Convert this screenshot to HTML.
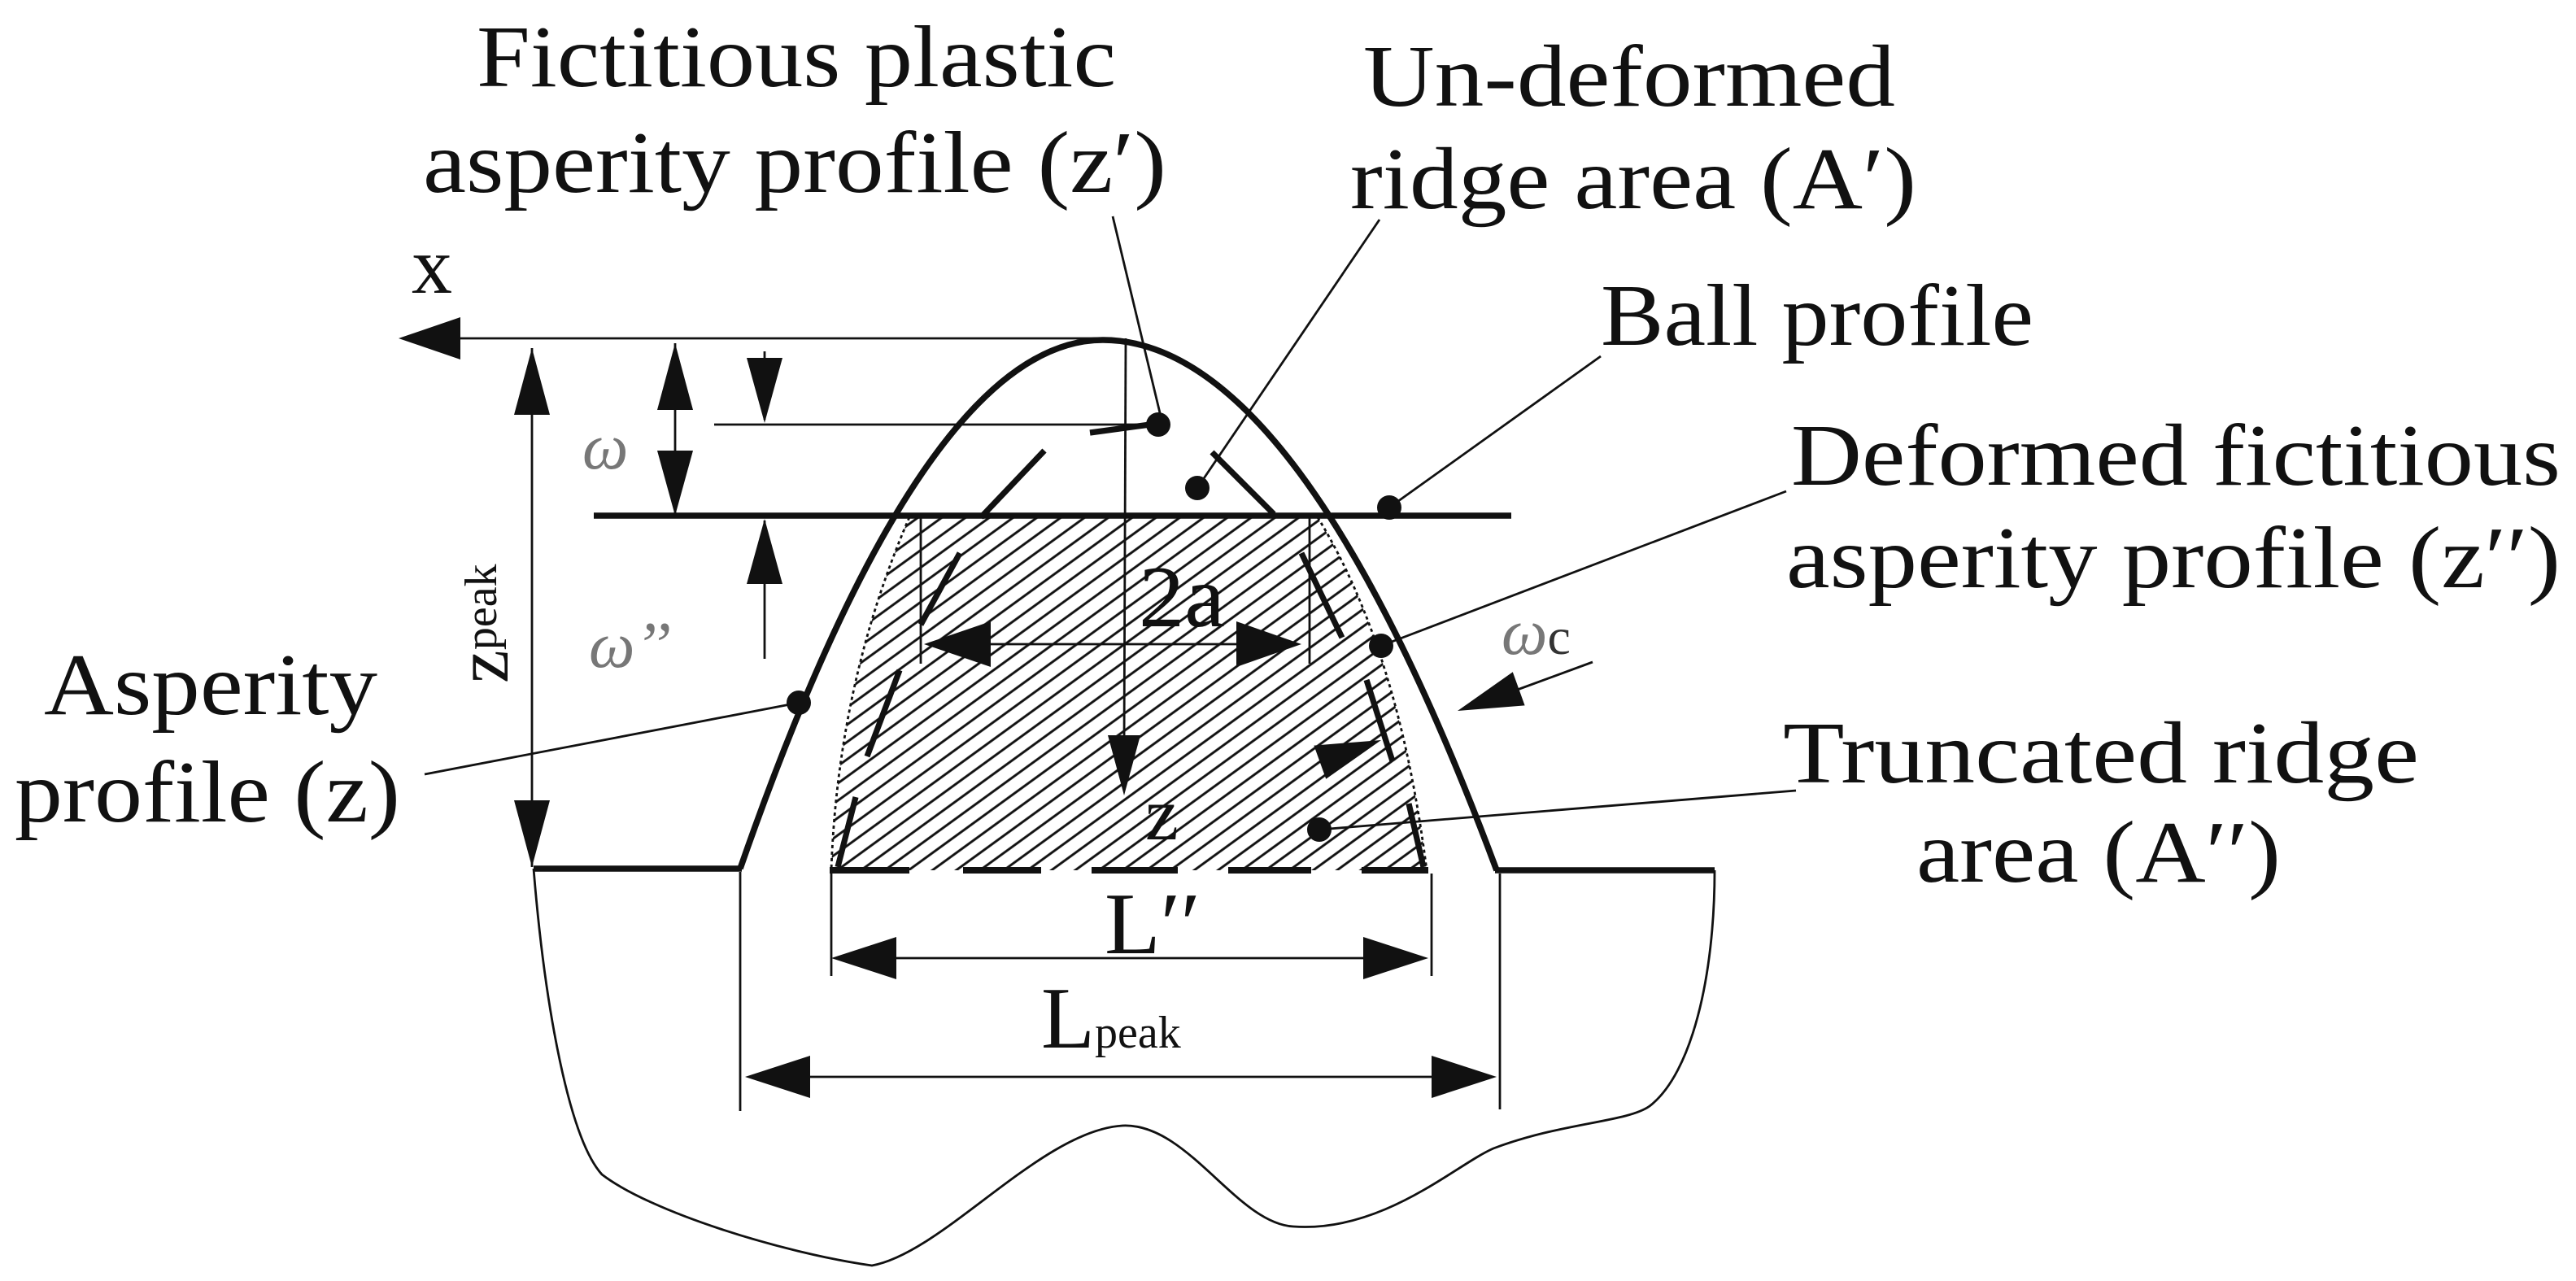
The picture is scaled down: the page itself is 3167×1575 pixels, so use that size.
<!DOCTYPE html>
<html><head><meta charset="utf-8"><style>
html,body{margin:0;padding:0;background:#fff;}
svg{display:block;}
text{font-family:"Liberation Serif",serif;fill:#111;}
</style></head><body>
<svg width="3167" height="1575" viewBox="0 0 1583.5 787.5" xmlns="http://www.w3.org/2000/svg">
<defs>
<pattern id="h" patternUnits="userSpaceOnUse" width="40" height="8.6" patternTransform="rotate(-36)">
<line x1="0" y1="4.3" x2="40" y2="4.3" stroke="#111" stroke-width="1.5"/>
</pattern>
<clipPath id="c"><path d="M559,318 L810,318 Q860,400 877,535 L511,535 Q515,420 559,318 Z"/></clipPath>
</defs>
<rect width="1583.5" height="787.5" fill="#fff"/>

<rect x="500" y="310" width="390" height="230" fill="url(#h)" clip-path="url(#c)"/>
<path d="M559,318 Q515,420 511,535" fill="none" stroke="#111" stroke-width="1.4" stroke-dasharray="2,2"/>
<path d="M810,318 Q860,400 877,535" fill="none" stroke="#111" stroke-width="1.4" stroke-dasharray="2,2"/>
<path d="M510,535 H559 M592,535 H640 M671,535 H724 M755,535 H806 M837,535 H878" stroke="#111" stroke-width="4"/>

<path d="M455,534 Q568,209 678,209 Q798.5,209 920,535" fill="none" stroke="#111" stroke-width="3.8"/>
<path d="M328,534 H456 M919,535 H1054" stroke="#111" stroke-width="3.8"/>
<path d="M328,534 C335,620 350,700 370,722 C400,745 480,770 536,778 C580,770 640,695 690,692 C730,690 760,752 795,754 C850,758 895,716 918,706 C960,690 1000,690 1014,680 C1040,660 1054,600 1054,535" fill="none" stroke="#111" stroke-width="1.4"/>

<line x1="365" y1="317" x2="929" y2="317" stroke="#111" stroke-width="3.8"/>

<path d="M670,266 L707,261 M603,318 L642,277 M566,384 L590,340 M533,465 L553,412 M515,533 L526,490 M745,278 L783,316 M800,340 L825,392 M840,418 L856,468 M866,494 L875,533" stroke="#111" stroke-width="3.6" fill="none"/>

<g stroke="#111" stroke-width="1.4" fill="none">
<line x1="283" y1="208" x2="678" y2="208"/>
<line x1="327" y1="214" x2="327" y2="533"/>
<line x1="415" y1="211" x2="415" y2="317"/>
<line x1="470" y1="216" x2="470" y2="258"/>
<line x1="470" y1="320" x2="470" y2="405"/>
<line x1="439" y1="261" x2="714" y2="261"/>
<line x1="692" y1="208" x2="691" y2="460"/>
<line x1="566" y1="318" x2="566" y2="408"/>
<line x1="805" y1="318" x2="805" y2="408"/>
<line x1="580" y1="396" x2="790" y2="396"/>
<line x1="511" y1="537" x2="511" y2="600"/>
<line x1="880" y1="537" x2="880" y2="600"/>
<line x1="520" y1="589" x2="870" y2="589"/>
<line x1="455" y1="536" x2="455" y2="683"/>
<line x1="922" y1="537" x2="922" y2="682"/>
<line x1="470" y1="662" x2="910" y2="662"/>
<line x1="979" y1="407" x2="930" y2="425"/>
<line x1="684" y1="133" x2="714" y2="258"/>
<line x1="848" y1="135" x2="736" y2="300"/>
<line x1="984" y1="219" x2="854" y2="312"/>
<line x1="1098" y1="302" x2="849" y2="397"/>
<line x1="1104" y1="486" x2="811" y2="510"/>
<line x1="261" y1="476" x2="491" y2="432"/>
</g>

<g fill="#111">
<polygon points="245,208 283,195 283,221"/>
<polygon points="327,214 316,255 338,255"/>
<polygon points="327,533 316,492 338,492"/>
<polygon points="415,211 404,252 426,252"/>
<polygon points="415,317 404,277 426,277"/>
<polygon points="470,260 459,220 481,220"/>
<polygon points="470,319 459,359 481,359"/>
<polygon points="568,396 609,382 609,410"/>
<polygon points="800,396 760,382 760,410"/>
<polygon points="691,489 681,452 701,452"/>
<polygon points="511,589 551,576 551,602"/>
<polygon points="878,589 838,576 838,602"/>
<polygon points="458,662 498,649 498,675"/>
<polygon points="920,662 880,649 880,675"/>
<polygon points="896,437 937.3,433.7 929.9,413.1"/>
<polygon points="849,455 815.1,478.9 807.7,458.3"/>
<circle cx="712" cy="261" r="7.5"/>
<circle cx="736" cy="300" r="7.5"/>
<circle cx="854" cy="312" r="7.5"/>
<circle cx="491" cy="432" r="7.5"/>
<circle cx="849" cy="397" r="7.5"/>
<circle cx="811" cy="510" r="7.5"/>
</g>

<g font-size="54">
<text x="293" y="53" textLength="393" lengthAdjust="spacingAndGlyphs">Fictitious plastic</text>
<text x="260" y="118" textLength="457" lengthAdjust="spacingAndGlyphs">asperity profile (z′)</text>
<text x="838" y="65" textLength="327" lengthAdjust="spacingAndGlyphs">Un-deformed</text>
<text x="830" y="128" textLength="348" lengthAdjust="spacingAndGlyphs">ridge area (A′)</text>
<text x="984" y="212" textLength="266" lengthAdjust="spacingAndGlyphs">Ball profile</text>
<text x="1101" y="298" textLength="473" lengthAdjust="spacingAndGlyphs">Deformed fictitious</text>
<text x="1098" y="361" textLength="476" lengthAdjust="spacingAndGlyphs">asperity profile (z′′)</text>
<text x="1096" y="481" textLength="391" lengthAdjust="spacingAndGlyphs">Truncated ridge</text>
<text x="1178" y="542" textLength="224" lengthAdjust="spacingAndGlyphs">area (A′′)</text>
<text x="27" y="439" textLength="205" lengthAdjust="spacingAndGlyphs">Asperity</text>
<text x="9" y="505" textLength="237" lengthAdjust="spacingAndGlyphs">profile (z)</text>
<text x="253" y="180" font-size="50">x</text>
<text x="700" y="385" textLength="53" lengthAdjust="spacingAndGlyphs">2a</text>
<text x="704" y="516" font-size="46">z</text>
<text x="679" y="586" textLength="59" lengthAdjust="spacingAndGlyphs">L′′</text>
<text x="640" y="644">L<tspan font-size="28">peak</tspan></text>
</g>
<g transform="translate(312,420) rotate(-90)"><text x="0" y="0" font-size="46">z<tspan font-size="28" dy="-7">peak</tspan></text></g>
<g font-size="40" font-style="italic">
<text x="358" y="288" style="fill:#777">ω</text>
<text x="362" y="410" style="fill:#777">ω’’</text>
<text x="923" y="402" style="fill:#777">ω<tspan font-size="32" font-style="normal" style="fill:#333">c</tspan></text>
</g>
</svg>
</body></html>
